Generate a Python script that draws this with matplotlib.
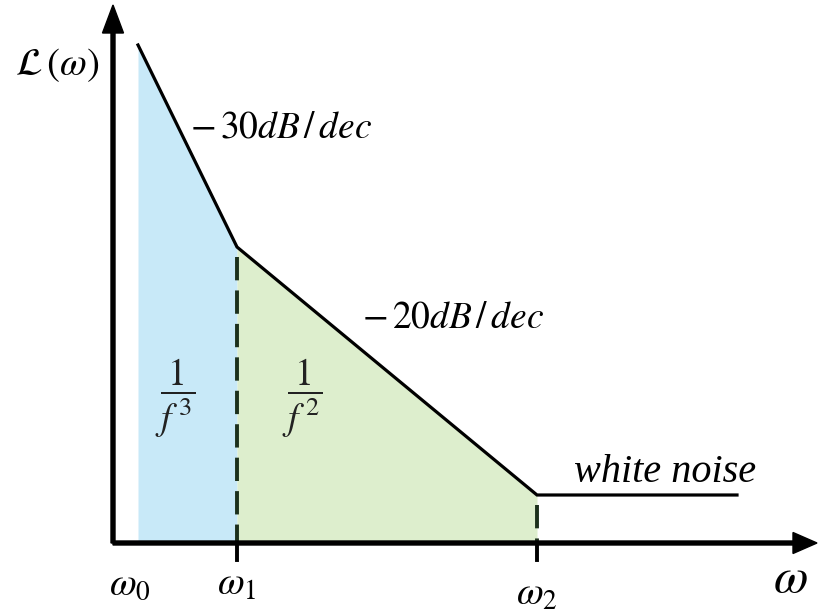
import matplotlib.pyplot as plt

plt.rcParams['mathtext.fontset'] = 'stix'
plt.rcParams['font.family'] = ['Liberation Serif', 'DejaVu Serif']

# corner frequencies (log-scale units) and noise level at each corner
omega = [0.25, 1.24, 4.24, 6.24]
level = [4.98, 2.96, 0.48, 0.48]
omega_labels = [r'$\omega_0$', r'$\omega_1$', r'$\omega_2$']

blue = '#c8e9f8'
green = '#ddeecd'

fig = plt.figure(figsize=(8.19, 6.14), dpi=100)
ax = fig.add_axes([0, 0, 1, 1])
ax.set_xlim(-1.13, 7.06)
ax.set_ylim(-0.71, 5.43)
ax.axis('off')

# shaded regions under the 1/f^3 and 1/f^2 segments
ax.fill_between(omega[0:2], level[0:2], 0, color=blue, lw=0, zorder=1)
ax.fill_between(omega[1:3], level[1:3], 0, color=green, lw=0, zorder=1)

# phase-noise asymptote
ax.plot(omega, level, color='black', lw=2.3, solid_joinstyle='miter', zorder=3)

# dashed markers at the corner frequencies, with a short tick below the axis
for w, l in zip(omega[1:3], level[1:3]):
    ax.plot([w, w], [l - 0.1, 0], color='#1c301c', lw=2.8,
            dashes=(6, 2.6), zorder=2)
    ax.plot([w, w], [0, -0.17], color='black', lw=2.8, zorder=4)

# axes with arrow heads
ax.arrow(0, 0, 0, 5.38, width=0.04, head_width=0.21, head_length=0.28,
         length_includes_head=True, color='black', zorder=4)
ax.arrow(0, 0, 7.04, 0, width=0.04, head_width=0.21, head_length=0.24,
         length_includes_head=True, color='black', zorder=4)

ax.text(-0.56, 4.78, r'$\mathcal{L}\,(\omega)$', fontsize=28, ha='center', va='center')
ax.text(1.68, 4.15, r'$-\,30dB\,/\,dec$', fontsize=27, ha='center', va='center')
ax.text(3.40, 2.25, r'$-\,20dB\,/\,dec$', fontsize=27, ha='center', va='center')
ax.text(0.62, 1.45, r'$\dfrac{1}{f^{\,3}}$', fontsize=27, ha='center', va='center', color='#222222')
ax.text(1.89, 1.45, r'$\dfrac{1}{f^{\,2}}$', fontsize=27, ha='center', va='center', color='#222222')
ax.text(5.52, 0.71, 'white noise', fontsize=29, style='italic', ha='center', va='center')

for w, lab, dy in zip(omega[:3], omega_labels, [0, 0, -0.1]):
    ax.text(w - 0.08 if lab.endswith('0$') else w, -0.42 + dy, lab, fontsize=28,
            ha='center', va='center')
ax.text(6.77, -0.37, r'$\omega$', fontsize=36, ha='center', va='center')

fig.savefig('out.png', dpi=100)
